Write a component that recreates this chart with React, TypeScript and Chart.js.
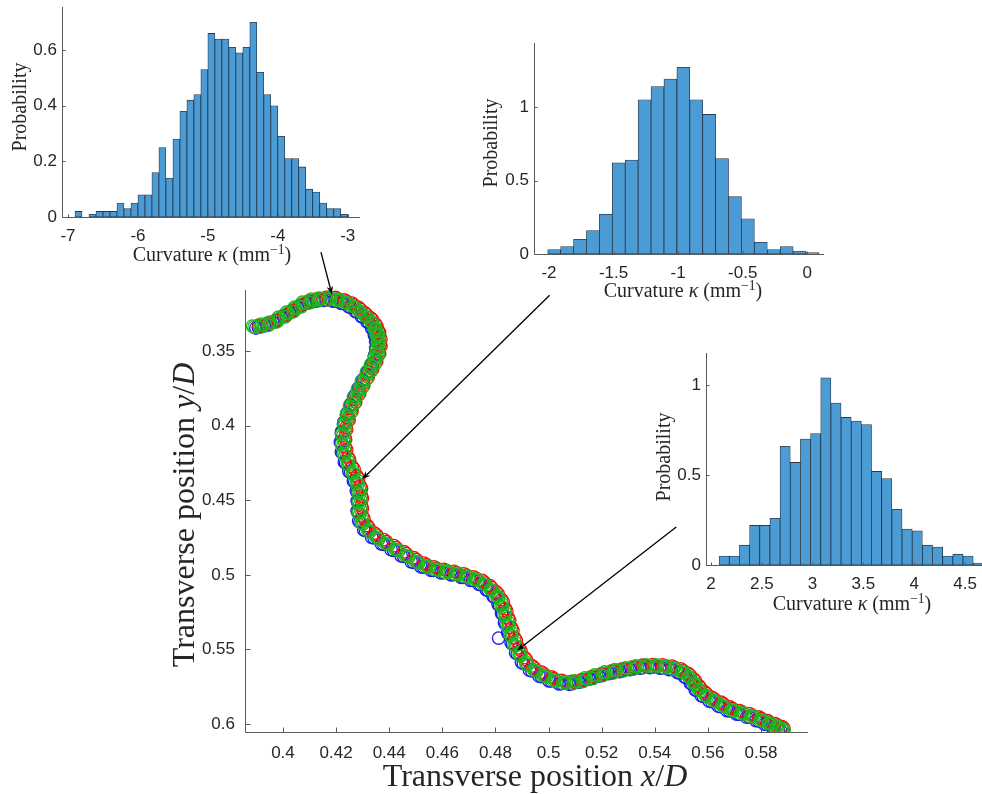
import React, { useEffect, useRef } from "react";
import { Chart, registerables } from "chart.js";

Chart.register(...registerables);

// ---------------- Main trajectory data (x/D, y/D) ----------------
const xTicksMain = [0.4, 0.42, 0.44, 0.46, 0.48, 0.5, 0.52, 0.54, 0.56, 0.58];
const yTicksMain = [0.35, 0.4, 0.45, 0.5, 0.55, 0.6];

const greenPts: [number, number][] = [
  [0.3891, 0.3339], [0.3925, 0.3326], [0.3955, 0.3312], [0.3989, 0.3279], [0.4019, 0.3245],
  [0.4049, 0.3212], [0.4079, 0.3178], [0.4113, 0.3158], [0.4143, 0.3151], [0.418, 0.3145],
  [0.4214, 0.3158], [0.4244, 0.3178], [0.4271, 0.3205], [0.4293, 0.3239], [0.4316, 0.3272],
  [0.4338, 0.3312], [0.435, 0.3359], [0.4357, 0.3399], [0.4361, 0.3446], [0.4357, 0.3493],
  [0.435, 0.3547], [0.4335, 0.3601], [0.432, 0.3647], [0.4301, 0.3708], [0.4286, 0.3761],
  [0.4271, 0.3815], [0.4256, 0.3875], [0.4244, 0.3936], [0.4233, 0.3996], [0.4226, 0.4063],
  [0.4226, 0.413], [0.4233, 0.4197], [0.4248, 0.4264], [0.4267, 0.4324], [0.4282, 0.4391],
  [0.4289, 0.4458], [0.4289, 0.4525], [0.4289, 0.4592], [0.4301, 0.466], [0.4327, 0.4713],
  [0.4361, 0.476], [0.4398, 0.48], [0.4436, 0.484], [0.4474, 0.4881], [0.4511, 0.4921],
  [0.4549, 0.4948], [0.4586, 0.4968], [0.4624, 0.4981], [0.4662, 0.4995], [0.4699, 0.5015],
  [0.4733, 0.5035], [0.4763, 0.5068], [0.4789, 0.5109], [0.4812, 0.5155], [0.4827, 0.5216],
  [0.4838, 0.5276], [0.485, 0.5343], [0.4861, 0.541], [0.4876, 0.5477], [0.4895, 0.5544],
  [0.4921, 0.5605], [0.4955, 0.5651], [0.4992, 0.5685], [0.503, 0.5712], [0.5068, 0.5725],
  [0.5105, 0.5718], [0.5143, 0.5698], [0.518, 0.5678], [0.5218, 0.5658], [0.5256, 0.5643],
  [0.5297, 0.563], [0.5335, 0.5617], [0.5372, 0.5611], [0.541, 0.5611], [0.5447, 0.5617],
  [0.5481, 0.563], [0.5511, 0.5658], [0.5534, 0.5691], [0.5553, 0.5739], [0.5571, 0.5779],
  [0.5598, 0.5819], [0.5632, 0.5852], [0.5665, 0.5886], [0.5699, 0.5912], [0.5737, 0.5932],
  [0.5774, 0.5953], [0.5808, 0.5979], [0.5838, 0.6], [0.5865, 0.602], [0.5887, 0.604],
];

const greenPts2: [number, number][] = [
  [0.3913, 0.3341], [0.3945, 0.3327], [0.3977, 0.3304], [0.4009, 0.327], [0.4039, 0.3237],
  [0.4069, 0.3203], [0.4101, 0.3176], [0.4133, 0.3163], [0.4167, 0.3156], [0.4202, 0.316],
  [0.4234, 0.3176], [0.4263, 0.32], [0.4287, 0.323], [0.431, 0.3264], [0.4332, 0.33],
  [0.4349, 0.3344], [0.4359, 0.3387], [0.4364, 0.3431], [0.4364, 0.3478], [0.4359, 0.3528],
  [0.4348, 0.3582], [0.4333, 0.3632], [0.4316, 0.3686], [0.4299, 0.3743], [0.4284, 0.3796],
  [0.4269, 0.3853], [0.4255, 0.3914], [0.4244, 0.3974], [0.4235, 0.4038], [0.4231, 0.4105],
  [0.4235, 0.4172], [0.4246, 0.4239], [0.4263, 0.4302], [0.428, 0.4366], [0.4291, 0.4433],
  [0.4294, 0.45], [0.4294, 0.4567], [0.43, 0.4634], [0.4319, 0.4695], [0.4349, 0.4745],
  [0.4385, 0.4788], [0.4422, 0.4828], [0.446, 0.4869], [0.4498, 0.4909], [0.4535, 0.4943],
  [0.4573, 0.4966], [0.461, 0.4983], [0.4648, 0.4996], [0.4686, 0.5013], [0.4721, 0.5033],
  [0.4753, 0.506], [0.4781, 0.5097], [0.4806, 0.514], [0.4825, 0.5194], [0.4838, 0.5254],
  [0.4849, 0.5318], [0.4861, 0.5385], [0.4874, 0.5452], [0.4891, 0.5519], [0.4913, 0.5583],
  [0.4943, 0.5636], [0.4979, 0.5676], [0.5016, 0.5707], [0.5054, 0.5727], [0.5092, 0.573],
  [0.5129, 0.5716], [0.5167, 0.5696], [0.5204, 0.5676], [0.5242, 0.5659], [0.5282, 0.5645],
  [0.5321, 0.5632], [0.5359, 0.5622], [0.5396, 0.5619], [0.5434, 0.5622], [0.5469, 0.5632],
  [0.5501, 0.5652], [0.5528, 0.5683], [0.5549, 0.5723], [0.5567, 0.5767], [0.559, 0.5807],
  [0.562, 0.5844], [0.5654, 0.5877], [0.5687, 0.5907], [0.5723, 0.593], [0.5761, 0.5951],
  [0.5796, 0.5974], [0.5828, 0.5998], [0.5857, 0.6018], [0.5881, 0.6038],
];

const greenPts3: [number, number][] = [
  [0.3885, 0.3332], [0.3919, 0.3319], [0.3949, 0.3305], [0.3983, 0.3272], [0.4013, 0.3238],
  [0.4043, 0.3205], [0.4073, 0.3171], [0.4107, 0.3151], [0.4137, 0.3144], [0.4174, 0.3138],
  [0.4208, 0.3151], [0.4238, 0.3171], [0.4265, 0.3198], [0.4287, 0.3232], [0.431, 0.3265],
  [0.4332, 0.3305], [0.4344, 0.3352], [0.4351, 0.3392], [0.4355, 0.3439], [0.4351, 0.3486],
  [0.4344, 0.354], [0.4329, 0.3594], [0.4314, 0.364], [0.4295, 0.3701], [0.428, 0.3754],
  [0.4265, 0.3808], [0.425, 0.3868], [0.4238, 0.3929], [0.4227, 0.3989], [0.422, 0.4056],
  [0.422, 0.4123], [0.4227, 0.419], [0.4242, 0.4257], [0.4261, 0.4317], [0.4276, 0.4384],
  [0.4283, 0.4451], [0.4283, 0.4518], [0.4283, 0.4585], [0.4295, 0.4653], [0.4321, 0.4706],
  [0.4355, 0.4753], [0.4392, 0.4793], [0.443, 0.4833], [0.4468, 0.4874], [0.4505, 0.4914],
  [0.4543, 0.4941], [0.458, 0.4961], [0.4618, 0.4974], [0.4656, 0.4988], [0.4693, 0.5008],
  [0.4727, 0.5028], [0.4757, 0.5061], [0.4783, 0.5102], [0.4806, 0.5148], [0.4821, 0.5209],
  [0.4832, 0.5269], [0.4844, 0.5336], [0.4855, 0.5403], [0.487, 0.547], [0.4889, 0.5537],
  [0.4915, 0.5598], [0.4949, 0.5644], [0.4986, 0.5678], [0.5024, 0.5705], [0.5062, 0.5718],
  [0.5099, 0.5711], [0.5137, 0.5691], [0.5174, 0.5671], [0.5212, 0.5651], [0.525, 0.5636],
  [0.5291, 0.5623], [0.5329, 0.561], [0.5366, 0.5604], [0.5404, 0.5604], [0.5441, 0.561],
  [0.5475, 0.5623], [0.5505, 0.5651], [0.5528, 0.5684], [0.5547, 0.5732], [0.5565, 0.5772],
  [0.5592, 0.5812], [0.5626, 0.5845], [0.5659, 0.5879], [0.5693, 0.5905], [0.5731, 0.5925],
  [0.5768, 0.5946], [0.5802, 0.5972], [0.5832, 0.5993], [0.5859, 0.6013], [0.5881, 0.6033],
];

const redPts: [number, number][] = [
  [0.3909, 0.3326], [0.3942, 0.3312], [0.3973, 0.3292], [0.4006, 0.3259], [0.4036, 0.3225],
  [0.4066, 0.3192], [0.4097, 0.3162], [0.413, 0.3147], [0.4162, 0.314], [0.4198, 0.314],
  [0.4231, 0.3156], [0.426, 0.3178], [0.4285, 0.3207], [0.4308, 0.3241], [0.433, 0.3276],
  [0.4349, 0.3319], [0.4359, 0.3363], [0.4365, 0.3406], [0.4367, 0.3453], [0.4362, 0.3502],
  [0.4352, 0.3556], [0.4337, 0.3607], [0.4321, 0.3658], [0.4303, 0.3717], [0.4288, 0.377],
  [0.4273, 0.3826], [0.4259, 0.3886], [0.4247, 0.3947], [0.4238, 0.4009], [0.4233, 0.4076],
  [0.4235, 0.4143], [0.4245, 0.421], [0.4261, 0.4275], [0.4279, 0.4337], [0.4291, 0.4404],
  [0.4296, 0.4471], [0.4296, 0.4538], [0.43, 0.4606], [0.4317, 0.4669], [0.4345, 0.472],
  [0.438, 0.4764], [0.4418, 0.4804], [0.4456, 0.4845], [0.4493, 0.4885], [0.4531, 0.4921],
  [0.4568, 0.4946], [0.4606, 0.4963], [0.4644, 0.4977], [0.4681, 0.4993], [0.4717, 0.5013],
  [0.475, 0.5037], [0.4779, 0.5073], [0.4804, 0.5115], [0.4824, 0.5166], [0.4838, 0.5227],
  [0.4849, 0.5289], [0.4861, 0.5356], [0.4873, 0.5423], [0.4889, 0.549], [0.4911, 0.5555],
  [0.4939, 0.5611], [0.4974, 0.5653], [0.5012, 0.5685], [0.505, 0.5707], [0.5087, 0.5714],
  [0.5125, 0.5702], [0.5162, 0.5682], [0.52, 0.5662], [0.5238, 0.5644], [0.5277, 0.563],
  [0.5317, 0.5617], [0.5354, 0.5606], [0.5392, 0.5602], [0.5429, 0.5604], [0.5465, 0.5612],
  [0.5498, 0.563], [0.5526, 0.566], [0.5547, 0.5698], [0.5566, 0.5743], [0.5587, 0.5783],
  [0.5616, 0.5821], [0.565, 0.5854], [0.5683, 0.5886], [0.5719, 0.591], [0.5756, 0.593],
  [0.5792, 0.5953], [0.5825, 0.5977], [0.5854, 0.5998], [0.5879, 0.6018],
];

const redPts2: [number, number][] = [
  [0.3918, 0.333], [0.395, 0.3316], [0.3982, 0.3293], [0.4014, 0.3259], [0.4044, 0.3226],
  [0.4074, 0.3192], [0.4106, 0.3165], [0.4138, 0.3152], [0.4172, 0.3145], [0.4207, 0.3149],
  [0.4239, 0.3165], [0.4268, 0.3189], [0.4292, 0.3219], [0.4315, 0.3253], [0.4337, 0.3289],
  [0.4354, 0.3333], [0.4364, 0.3376], [0.4369, 0.342], [0.4369, 0.3467], [0.4364, 0.3517],
  [0.4353, 0.3571], [0.4338, 0.3621], [0.4321, 0.3675], [0.4304, 0.3732], [0.4289, 0.3785],
  [0.4274, 0.3842], [0.426, 0.3903], [0.4249, 0.3963], [0.424, 0.4027], [0.4236, 0.4094],
  [0.424, 0.4161], [0.4251, 0.4228], [0.4268, 0.4291], [0.4285, 0.4355], [0.4296, 0.4422],
  [0.4299, 0.4489], [0.4299, 0.4556], [0.4305, 0.4623], [0.4324, 0.4684], [0.4354, 0.4734],
  [0.439, 0.4777], [0.4427, 0.4817], [0.4465, 0.4858], [0.4503, 0.4898], [0.454, 0.4932],
  [0.4578, 0.4955], [0.4615, 0.4972], [0.4653, 0.4985], [0.4691, 0.5002], [0.4726, 0.5022],
  [0.4758, 0.5049], [0.4786, 0.5086], [0.4811, 0.5129], [0.483, 0.5183], [0.4843, 0.5243],
  [0.4854, 0.5307], [0.4866, 0.5374], [0.4879, 0.5441], [0.4896, 0.5508], [0.4918, 0.5572],
  [0.4948, 0.5625], [0.4984, 0.5665], [0.5021, 0.5696], [0.5059, 0.5716], [0.5097, 0.5719],
  [0.5134, 0.5705], [0.5172, 0.5685], [0.5209, 0.5665], [0.5247, 0.5648], [0.5287, 0.5634],
  [0.5326, 0.5621], [0.5364, 0.5611], [0.5401, 0.5608], [0.5439, 0.5611], [0.5474, 0.5621],
  [0.5506, 0.5641], [0.5533, 0.5672], [0.5554, 0.5712], [0.5572, 0.5756], [0.5595, 0.5796],
  [0.5625, 0.5833], [0.5659, 0.5866], [0.5692, 0.5896], [0.5728, 0.5919], [0.5766, 0.594],
  [0.5801, 0.5963], [0.5833, 0.5987], [0.5862, 0.6007], [0.5886, 0.6027],
];

const bluePts: [number, number][] = [
  [0.3907, 0.3339], [0.3938, 0.3326], [0.3971, 0.3299], [0.4002, 0.3265], [0.4032, 0.3232],
  [0.4062, 0.3198], [0.4095, 0.3174], [0.4126, 0.3162], [0.4161, 0.3156], [0.4196, 0.3163],
  [0.4227, 0.318], [0.4255, 0.3205], [0.4279, 0.3237], [0.4301, 0.327], [0.4324, 0.3308],
  [0.4339, 0.3352], [0.4348, 0.3395], [0.4353, 0.3439], [0.4351, 0.3486], [0.4345, 0.3538],
  [0.4333, 0.3592], [0.4318, 0.3641], [0.43, 0.3697], [0.4284, 0.3752], [0.4269, 0.3806],
  [0.4254, 0.3864], [0.4241, 0.3925], [0.423, 0.3985], [0.4221, 0.405], [0.4219, 0.4117],
  [0.4224, 0.4184], [0.4236, 0.4251], [0.4254, 0.4313], [0.427, 0.4378], [0.428, 0.4445],
  [0.4282, 0.4512], [0.4282, 0.4579], [0.429, 0.4646], [0.4311, 0.4704], [0.4343, 0.4753],
  [0.4379, 0.4796], [0.4416, 0.4836], [0.4454, 0.4876], [0.4492, 0.4917], [0.4529, 0.4948],
  [0.4567, 0.497], [0.4604, 0.4986], [0.4642, 0.4999], [0.468, 0.5017], [0.4715, 0.5037],
  [0.4746, 0.5066], [0.4773, 0.5104], [0.4797, 0.5149], [0.4815, 0.5205], [0.4827, 0.5265],
  [0.4839, 0.533], [0.485, 0.5397], [0.4864, 0.5464], [0.4882, 0.5531], [0.4905, 0.5594],
  [0.4937, 0.5645], [0.4973, 0.5683], [0.501, 0.5712], [0.5048, 0.573], [0.5086, 0.5729],
  [0.5123, 0.5714], [0.5161, 0.5694], [0.5198, 0.5674], [0.5236, 0.5657], [0.5276, 0.5643],
  [0.5315, 0.563], [0.5353, 0.5622], [0.539, 0.562], [0.5428, 0.5624], [0.5463, 0.5635],
  [0.5494, 0.5658], [0.5519, 0.5689], [0.554, 0.5732], [0.5558, 0.5775], [0.5582, 0.5815],
  [0.5614, 0.585], [0.5647, 0.5884], [0.5681, 0.5912], [0.5717, 0.5934], [0.5755, 0.5955],
  [0.579, 0.5979], [0.5821, 0.6002], [0.5849, 0.6022], [0.5873, 0.6042], [0.4812, 0.5424],
];

const bluePts2: [number, number][] = [
  [0.3898, 0.3345], [0.393, 0.3331], [0.3962, 0.3308], [0.3994, 0.3274], [0.4024, 0.3241],
  [0.4054, 0.3207], [0.4086, 0.318], [0.4118, 0.3167], [0.4152, 0.316], [0.4187, 0.3164],
  [0.4219, 0.318], [0.4248, 0.3204], [0.4272, 0.3234], [0.4295, 0.3268], [0.4317, 0.3304],
  [0.4334, 0.3348], [0.4344, 0.3391], [0.4349, 0.3435], [0.4349, 0.3482], [0.4344, 0.3532],
  [0.4333, 0.3586], [0.4318, 0.3636], [0.4301, 0.369], [0.4284, 0.3747], [0.4269, 0.38],
  [0.4254, 0.3857], [0.424, 0.3918], [0.4229, 0.3978], [0.422, 0.4042], [0.4216, 0.4109],
  [0.422, 0.4176], [0.4231, 0.4243], [0.4248, 0.4306], [0.4265, 0.437], [0.4276, 0.4437],
  [0.4279, 0.4504], [0.4279, 0.4571], [0.4285, 0.4638], [0.4304, 0.4699], [0.4334, 0.4749],
  [0.437, 0.4792], [0.4407, 0.4832], [0.4445, 0.4873], [0.4483, 0.4913], [0.452, 0.4947],
  [0.4558, 0.497], [0.4595, 0.4987], [0.4633, 0.5], [0.4671, 0.5017], [0.4706, 0.5037],
  [0.4738, 0.5064], [0.4766, 0.5101], [0.4791, 0.5144], [0.481, 0.5198], [0.4823, 0.5258],
  [0.4834, 0.5322], [0.4846, 0.5389], [0.4859, 0.5456], [0.4876, 0.5523], [0.4898, 0.5587],
  [0.4928, 0.564], [0.4964, 0.568], [0.5001, 0.5711], [0.5039, 0.5731], [0.5077, 0.5734],
  [0.5114, 0.572], [0.5152, 0.57], [0.5189, 0.568], [0.5227, 0.5663], [0.5267, 0.5649],
  [0.5306, 0.5636], [0.5344, 0.5626], [0.5381, 0.5623], [0.5419, 0.5626], [0.5454, 0.5636],
  [0.5486, 0.5656], [0.5513, 0.5687], [0.5534, 0.5727], [0.5552, 0.5771], [0.5575, 0.5811],
  [0.5605, 0.5848], [0.5639, 0.5881], [0.5672, 0.5911], [0.5708, 0.5934], [0.5746, 0.5955],
  [0.5781, 0.5978], [0.5813, 0.6002], [0.5842, 0.6022], [0.5866, 0.6042],
];

// arrows: tail -> tip, in main-axes data units (x/D, y/D)
const arrowTails: [number, number][] = [[0.4143, 0.2836], [0.5004, 0.3125], [0.5481, 0.468]];
const arrowTips: [number, number][] = [[0.4184, 0.3118], [0.4299, 0.4358], [0.4882, 0.5507]];

// ---------------- Histogram data ----------------
const hist1Start = -6.9;
const hist1Width = 0.1;
const hist1Values = [
  0.02, 0, 0.01, 0.02, 0.02, 0.02, 0.05, 0.03, 0.05, 0.08, 0.08, 0.16, 0.25, 0.14, 0.28, 0.38,
  0.42, 0.44, 0.53, 0.66, 0.64, 0.64, 0.61, 0.59, 0.61, 0.7, 0.52, 0.44, 0.4, 0.29, 0.21, 0.21,
  0.18, 0.1, 0.09, 0.05, 0.03, 0.03, 0.01,
];
const hist1XTicks = [-7, -6, -5, -4, -3];
const hist1YTicks = [0, 0.2, 0.4, 0.6];

const hist2Start = -2.01;
const hist2Width = 0.1;
const hist2Values = [
  0.03, 0.05, 0.1, 0.16, 0.27, 0.62, 0.64, 1.05, 1.14, 1.19, 1.27, 1.05, 0.95, 0.65, 0.39, 0.24,
  0.08, 0.03, 0.05, 0.02, 0.01,
];
const hist2XTicks = [-2, -1.5, -1, -0.5, 0];
const hist2YTicks = [0, 0.5, 1];

const hist3Start = 2.08;
const hist3Width = 0.1;
const hist3Values = [
  0.05, 0.05, 0.11, 0.22, 0.22, 0.26, 0.66, 0.57, 0.7, 0.73, 1.04, 0.9, 0.82, 0.8, 0.78, 0.52,
  0.48, 0.31, 0.2, 0.19, 0.11, 0.1, 0.05, 0.06, 0.05, 0.01,
];
const hist3XTicks = [2, 2.5, 3, 3.5, 4, 4.5];
const hist3YTicks = [0, 0.5, 1];

// ---------------- styles ----------------
const SANS = '"Liberation Sans", Arial, Helvetica, sans-serif';
const SERIF = '"Liberation Serif", "Times New Roman", serif';
const TICK_COLOR = "#262626";
const AXIS_COLOR = "#5a5a5a";
const BAR_FILL = "#4b9bd4";
const BAR_EDGE = "rgba(20,38,58,0.9)";

const fmt = (v: number) => String(parseFloat(Number(v).toFixed(4)));

const matAxesPlugin = {
  id: "matAxes",
  afterDraw(chart: any, _args: any, opts: any) {
    const { ctx, chartArea: a, scales } = chart;
    const len = opts.tickLen ?? 4;
    ctx.save();
    ctx.strokeStyle = opts.color ?? AXIS_COLOR;
    ctx.lineWidth = 1;
    ctx.beginPath();
    const L = Math.round(a.left) + 0.5;
    const B = Math.round(a.bottom) + 0.5;
    ctx.moveTo(L, a.top);
    ctx.lineTo(L, B);
    ctx.lineTo(a.right, B);
    scales.x.ticks.forEach((t: any) => {
      const px = Math.round(scales.x.getPixelForValue(t.value)) + 0.5;
      ctx.moveTo(px, B);
      ctx.lineTo(px, B - len);
    });
    scales.y.ticks.forEach((t: any) => {
      const py = Math.round(scales.y.getPixelForValue(t.value)) + 0.5;
      ctx.moveTo(L, py);
      ctx.lineTo(L + len, py);
    });
    ctx.stroke();
    ctx.restore();
  },
};

const arrowPlugin = {
  id: "arrows",
  afterDatasetsDraw(chart: any) {
    const { ctx, scales } = chart;
    ctx.save();
    ctx.strokeStyle = "#000";
    ctx.fillStyle = "#000";
    ctx.lineWidth = 1.3;
    arrowTails.forEach((tail, i) => {
      const tip = arrowTips[i];
      const x1 = scales.x.getPixelForValue(tail[0]);
      const y1 = scales.y.getPixelForValue(tail[1]);
      const x2 = scales.x.getPixelForValue(tip[0]);
      const y2 = scales.y.getPixelForValue(tip[1]);
      const ang = Math.atan2(y2 - y1, x2 - x1);
      const hl = 8;
      const hw = 3.2;
      const c = Math.cos(ang);
      const s = Math.sin(ang);
      ctx.beginPath();
      ctx.moveTo(x1, y1);
      ctx.lineTo(x2 - hl * 0.7 * c, y2 - hl * 0.7 * s);
      ctx.stroke();
      ctx.beginPath();
      ctx.moveTo(x2, y2);
      ctx.lineTo(x2 - hl * c + hw * s, y2 - hl * s - hw * c);
      ctx.lineTo(x2 - hl * 0.7 * c, y2 - hl * 0.7 * s);
      ctx.lineTo(x2 - hl * c - hw * s, y2 - hl * s + hw * c);
      ctx.closePath();
      ctx.fill();
    });
    ctx.restore();
  },
};

function MainChart() {
  const ref = useRef<HTMLCanvasElement>(null);
  useEffect(() => {
    if (!ref.current) return;
    const mk = (pts: [number, number][], color: string) => ({
      data: pts.map(([x, y]) => ({ x, y })),
      showLine: false,
      pointRadius: 6.2,
      pointBorderWidth: 1.3,
      pointBorderColor: color,
      pointBackgroundColor: "rgba(0,0,0,0)",
      borderColor: color,
      backgroundColor: "rgba(0,0,0,0)",
    });
    // Chart.js draws dataset 0 on top: green first so it is drawn last
    const chart = new Chart(ref.current, {
      type: "scatter",
      data: {
        datasets: [
          mk([...greenPts, ...greenPts2, ...greenPts3], "#1db81d"),
          mk([...redPts, ...redPts2], "#ee1111"),
          mk([...bluePts, ...bluePts2], "#1c1cf0"),
        ],
      },
      plugins: [matAxesPlugin, arrowPlugin],
      options: {
        animation: false,
        responsive: false,
        devicePixelRatio: 1,
        events: [],
        layout: { padding: { left: 160, right: 174, top: 290, bottom: 0 } },
        plugins: {
          legend: { display: false },
          tooltip: { enabled: false },
          matAxes: { tickLen: 5 },
        } as any,
        scales: {
          x: {
            type: "linear",
            min: 0.3857,
            max: 0.5977,
            grid: { display: false, drawTicks: false },
            border: { display: false },
            ticks: {
              font: { family: SANS, size: 17 },
              color: TICK_COLOR,
              padding: 11,
              maxRotation: 0,
              autoSkip: false,
              callback: (v: any) => fmt(v),
            },
            afterBuildTicks: (s: any) => {
              s.ticks = xTicksMain.map((v) => ({ value: v }));
            },
            afterFit: (s: any) => {
              s.height = 62;
              s.paddingLeft = 0;
              s.paddingRight = 0;
            },
          },
          y: {
            type: "linear",
            reverse: true,
            min: 0.309,
            max: 0.6054,
            grid: { display: false, drawTicks: false },
            border: { display: false },
            ticks: {
              font: { family: SANS, size: 17 },
              color: TICK_COLOR,
              padding: 10,
              autoSkip: false,
              callback: (v: any) => fmt(v),
            },
            afterBuildTicks: (s: any) => {
              s.ticks = yTicksMain.map((v) => ({ value: v }));
            },
            afterFit: (s: any) => {
              s.width = 85;
              s.paddingTop = 0;
              s.paddingBottom = 0;
            },
          },
        },
      } as any,
    });
    return () => chart.destroy();
  }, []);
  return (
    <canvas
      ref={ref}
      width={982}
      height={794}
      style={{ position: "absolute", left: 0, top: 0, width: 982, height: 794 }}
    />
  );
}

type HistProps = {
  left: number;
  top: number;
  width: number;
  height: number;
  padLeft: number;
  padRight: number;
  padTop: number;
  yAxisWidth: number;
  xAxisHeight: number;
  start: number;
  binWidth: number;
  values: number[];
  xMin: number;
  xMax: number;
  yMax: number;
  xTicks: number[];
  yTicks: number[];
};

function Hist(p: HistProps) {
  const ref = useRef<HTMLCanvasElement>(null);
  useEffect(() => {
    if (!ref.current) return;
    const pts = p.values.map((v, i) => ({ x: p.start + (i + 0.5) * p.binWidth, y: v }));
    const chart = new Chart(ref.current, {
      type: "bar",
      data: {
        datasets: [
          {
            data: pts,
            backgroundColor: BAR_FILL,
            borderColor: BAR_EDGE,
            borderWidth: 0.8,
            borderSkipped: false,
            barPercentage: 1,
            categoryPercentage: 1,
          },
        ],
      },
      plugins: [matAxesPlugin],
      options: {
        animation: false,
        responsive: false,
        devicePixelRatio: 1,
        events: [],
        layout: { padding: { left: p.padLeft, right: p.padRight, top: p.padTop, bottom: 0 } },
        plugins: {
          legend: { display: false },
          tooltip: { enabled: false },
          matAxes: { tickLen: 3 },
        } as any,
        scales: {
          x: {
            type: "linear",
            offset: false,
            min: p.xMin,
            max: p.xMax,
            grid: { display: false, drawTicks: false },
            border: { display: false },
            ticks: {
              font: { family: SANS, size: 17 },
              color: TICK_COLOR,
              padding: 9,
              maxRotation: 0,
              autoSkip: false,
              callback: (v: any) => fmt(v),
            },
            afterBuildTicks: (s: any) => {
              s.ticks = p.xTicks.map((v) => ({ value: v }));
            },
            afterFit: (s: any) => {
              s.height = p.xAxisHeight;
              s.paddingLeft = 0;
              s.paddingRight = 0;
            },
          },
          y: {
            type: "linear",
            min: 0,
            max: p.yMax,
            grid: { display: false, drawTicks: false },
            border: { display: false },
            ticks: {
              font: { family: SANS, size: 17 },
              color: TICK_COLOR,
              padding: 5,
              autoSkip: false,
              callback: (v: any) => fmt(v),
            },
            afterBuildTicks: (s: any) => {
              s.ticks = p.yTicks.map((v) => ({ value: v }));
            },
            afterFit: (s: any) => {
              s.width = p.yAxisWidth;
              s.paddingTop = 0;
              s.paddingBottom = 0;
            },
          },
        },
      } as any,
    });
    return () => chart.destroy();
  }, []);
  return (
    <canvas
      ref={ref}
      width={p.width}
      height={p.height}
      style={{ position: "absolute", left: p.left, top: p.top, width: p.width, height: p.height }}
    />
  );
}

function Txt(props: { cx: number; cy: number; size: number; rotate?: boolean; children: React.ReactNode }) {
  const w = 460;
  const h = Math.round(props.size * 1.3);
  return (
    <div
      style={{
        position: "absolute",
        left: props.cx - w / 2,
        top: props.cy - h / 2,
        width: w,
        height: h,
        lineHeight: `${h}px`,
        textAlign: "center",
        fontFamily: SERIF,
        fontSize: props.size,
        color: TICK_COLOR,
        whiteSpace: "nowrap",
        transform: props.rotate ? "rotate(-90deg)" : undefined,
        pointerEvents: "none",
      }}
    >
      {props.children}
    </div>
  );
}

const Kappa = () => (
  <>
    Curvature <i>κ</i> (mm
    <sup style={{ fontSize: "0.68em", lineHeight: 1, verticalAlign: "0.5em" }}>−1</sup>)
  </>
);

export default function App() {
  return (
    <div
      style={{
        position: "absolute",
        left: 0,
        top: 0,
        width: 982,
        height: 794,
        overflow: "hidden",
        background: "#fff",
      }}
    >
      <MainChart />
      <Hist
        left={0} top={0} width={370} height={270}
        padLeft={0} padRight={10} padTop={7} yAxisWidth={62} xAxisHeight={53}
        start={hist1Start} binWidth={hist1Width} values={hist1Values}
        xMin={-7.086} xMax={-2.824} yMax={0.755} xTicks={hist1XTicks} yTicks={hist1YTicks}
      />
      <Hist
        left={460} top={30} width={380} height={280}
        padLeft={0} padRight={16} padTop={13} yAxisWidth={74} xAxisHeight={56}
        start={hist2Start} binWidth={hist2Width} values={hist2Values}
        xMin={-2.116} xMax={0.129} yMax={1.436} xTicks={hist2XTicks} yTicks={hist2YTicks}
      />
      <Hist
        left={630} top={340} width={352} height={280}
        padLeft={0} padRight={0} padTop={13} yAxisWidth={76} xAxisHeight={55}
        start={hist3Start} binWidth={hist3Width} values={hist3Values}
        xMin={1.951} xMax={4.667} yMax={1.178} xTicks={hist3XTicks} yTicks={hist3YTicks}
      />
      <Txt cx={535} cy={775} size={32}>
        Transverse position <i>x</i>/<i>D</i>
      </Txt>
      <Txt cx={183} cy={515} size={32} rotate>
        Transverse position <i>y</i>/<i>D</i>
      </Txt>
      <Txt cx={19} cy={107} size={20} rotate>Probability</Txt>
      <Txt cx={212} cy={254} size={20}><Kappa /></Txt>
      <Txt cx={490} cy={143} size={20} rotate>Probability</Txt>
      <Txt cx={683} cy={290} size={20}><Kappa /></Txt>
      <Txt cx={663} cy={457} size={20} rotate>Probability</Txt>
      <Txt cx={852} cy={603} size={20}><Kappa /></Txt>
    </div>
  );
}
